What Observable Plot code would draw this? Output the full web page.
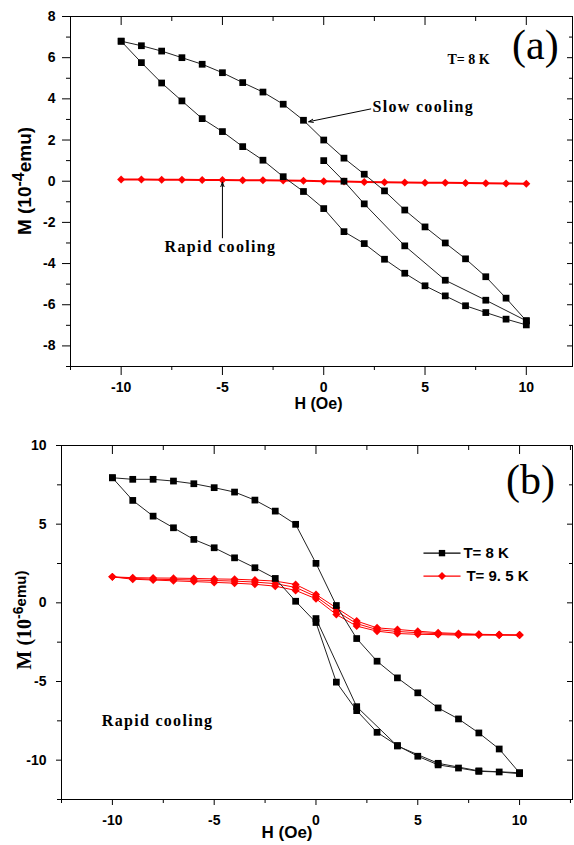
<!DOCTYPE html>
<html><head><meta charset="utf-8">
<script src="https://cdn.jsdelivr.net/npm/d3@7"></script>
<script src="https://cdn.jsdelivr.net/npm/@observablehq/plot@0.6"></script>
<style>body{margin:0;background:#fff;} #chart svg{display:block;}</style>
</head><body><div id="chart"></div>
<script>
// ---------- data ----------
const H = [-10,-9,-8,-7,-6,-5,-4,-3,-2,-1,0,1,2,3,4,5,6,7,8,9,10];

// panel (a) slow cooling, T = 8 K  (10^-4 emu)
const aUpper  = [6.8,6.58,6.32,6.0,5.68,5.27,4.79,4.33,3.74,2.96,2.0,1.12,0.34,-0.47,-1.4,-2.22,-3.0,-3.77,-4.64,-5.68,-6.78];
const aLower  = [6.8,5.76,4.77,3.9,3.04,2.41,1.68,1.02,0.22,-0.5,-1.33,-2.45,-3.03,-3.79,-4.47,-5.08,-5.57,-6.05,-6.38,-6.7,-6.98];
const aVirginH = [0,1,2,4,6,8,10];
const aVirgin  = [1.0,0.0,-1.1,-3.14,-4.81,-5.78,-6.78];
// panel (a) rapid cooling
const aRapid  = [0.08,0.08,0.07,0.07,0.06,0.06,0.05,0.05,0.04,0.02,0.0,-0.02,-0.04,-0.05,-0.06,-0.07,-0.08,-0.09,-0.10,-0.11,-0.12];

// panel (b) rapid cooling, T = 8 K (10^-6 emu)
const bUpper  = [7.95,7.85,7.85,7.74,7.57,7.32,7.04,6.53,5.83,4.99,2.51,-0.17,-2.27,-3.71,-4.77,-5.72,-6.68,-7.38,-8.27,-9.29,-10.81];
const bLower  = [7.95,6.51,5.51,4.77,4.03,3.5,2.86,2.23,1.55,0.1,-1.25,-5.04,-6.85,-8.23,-9.07,-9.75,-10.3,-10.5,-10.71,-10.75,-10.86];
const bVirginH = [0,2,4,6,8,10];
const bVirgin  = [-1.0,-6.6,-9.1,-10.2,-10.68,-10.8];
// panel (b) T = 9.5 K
const bRedA = [1.65,1.6,1.58,1.57,1.55,1.52,1.5,1.45,1.38,1.17,0.53,-0.32,-1.16,-1.59,-1.69,-1.8,-1.9,-1.95,-2.0,-2.02,-2.05];
const bRedB = [1.65,1.55,1.5,1.48,1.45,1.42,1.38,1.32,1.22,0.98,0.4,-0.53,-1.32,-1.7,-1.82,-1.9,-1.96,-2.0,-2.02,-2.04,-2.05];
const bRedC = [1.65,1.5,1.45,1.4,1.35,1.3,1.25,1.18,1.06,0.79,0.26,-0.74,-1.48,-1.8,-1.95,-2.0,-2.02,-2.05,-2.05,-2.05,-2.05];

// ticks
const aXMajor = [-10,-5,0,5,10];
const aXMinor = [-12.5,-7.5,-2.5,2.5,7.5,12.5];
const aYMajor = [-8,-6,-4,-2,0,2,4,6,8];
const aYMinor = [-9,-7,-5,-3,-1,1,3,5,7];
const bXMajor = [-10,-5,0,5,10];
const bXMinor = [-12.5,-7.5,-2.5,2.5,7.5,12.5];
const bYMajor = [-10,-5,0,5,10];
const bYMinor = [-12.5,-7.5,-2.5,2.5,7.5];

// annotations (data coordinates)
const aTemp   = [{x:6.11, y:5.67, text:"T= 8 K"}];
const aTag    = [{x:10.45, y:5.96, text:"(a)"}];
const aSlow   = [{x:2.41, y:3.63, text:"Slow cooling"}];
const aRapidT = [{x:-5.1, y:-3.17, text:"Rapid cooling"}];
const aArrows = [{x1:2.32, y1:3.51, x2:-0.74, y2:2.89}, {x1:-5, y1:-2.75, x2:-5, y2:-0.05}];
const bTag    = [{x:10.54, y:6.9, text:"(b)"}];
const bRapidT = [{x:-7.78, y:-7.53, text:"Rapid cooling"}];
const bLegend = [{x1:5.28, x2:7.1, y:3.16, mx:6.19, tx:7.24, text:"T= 8 K", color:"black", symbol:"square"},
                 {x1:5.28, x2:7.1, y:1.7,  mx:6.19, tx:7.39, text:"T= 9. 5 K", color:"#ff0000", symbol:"diamond2"}];

// ---------- build rows ----------
const rows = (xs, ys, s) => xs.map((x, i) => ({H: x, M: ys[i], s}));
const aBlack = [...rows(H, aUpper, "up"), ...rows(H, aLower, "low"), ...rows(aVirginH, aVirgin, "vir")];
const aRed = rows(H, aRapid, "r");
const bBlack = [...rows(H, bUpper, "up"), ...rows(H, bLower, "low"), ...rows(bVirginH, bVirgin, "vir")];
const bRed = [...rows(H, bRedA, "a"), ...rows(H, bRedB, "b"), ...rows(H, bRedC, "c")];

const sans = "'Liberation Sans', Arial, sans-serif";
const serif = "'Liberation Serif', 'Times New Roman', serif";
const fmt = d => String(d);
const blank = () => "";

function axes(xMaj, xMin, yMaj, yMin, big, small, pad) {
  return [
    Plot.axisX({ticks: xMaj, tickSize: big, tickPadding: pad, label: null, tickFormat: fmt, fontSize: 14, fontWeight: "bold"}),
    Plot.axisX({ticks: xMin, tickSize: small, label: null, tickFormat: blank}),
    Plot.axisX({anchor: "top", ticks: xMaj, tickSize: -8, label: null, tickFormat: blank}),
    Plot.axisX({anchor: "top", ticks: xMin, tickSize: -4, label: null, tickFormat: blank}),
    Plot.axisY({ticks: yMaj, tickSize: big - 1, tickPadding: pad, label: null, tickFormat: fmt, fontSize: 14, fontWeight: "bold"}),
    Plot.axisY({ticks: yMin, tickSize: small, label: null, tickFormat: blank}),
    Plot.axisY({anchor: "right", ticks: yMaj, tickSize: -6, label: null, tickFormat: blank}),
    Plot.axisY({anchor: "right", ticks: yMin, tickSize: -4, label: null, tickFormat: blank})
  ];
}

const plotA = Plot.plot({
  width: 574, height: 420,
  marginLeft: 70, marginRight: 2, marginTop: 16, marginBottom: 54,
  x: {domain: [-12.5, 12.28]},
  y: {domain: [-9, 8]},
  style: {fontFamily: sans, fontSize: "14px", fontWeight: "bold", background: "white", color: "black"},
  marks: [
    ...axes(aXMajor, aXMinor, aYMajor, aYMinor, 9, 4, 7),
    Plot.frame({stroke: "black", strokeWidth: 1}),
    Plot.line(aRed, {x: "H", y: "M", z: "s", stroke: "#ff0000", strokeWidth: 2}),
    Plot.dot(aRed, {x: "H", y: "M", symbol: "diamond2", r: 3.6, fill: "#ff0000"}),
    Plot.line(aBlack, {x: "H", y: "M", z: "s", stroke: "#222", strokeWidth: 1}),
    Plot.dot(aBlack, {x: "H", y: "M", symbol: "square", r: 3.8, fill: "black"}),
    Plot.arrow(aArrows, {x1: "x1", y1: "y1", x2: "x2", y2: "y2", stroke: "black", strokeWidth: 1, headLength: 7, headAngle: 40}),
    Plot.text(aTemp, {x: "x", y: "y", text: "text", textAnchor: "start", lineAnchor: "bottom", fontFamily: serif, fontWeight: "bold", fontSize: 14}),
    Plot.text(aTag, {x: "x", y: "y", text: "text", lineAnchor: "bottom", fontFamily: serif, fontWeight: "normal", fontSize: 42}),
    Plot.text(aSlow, {x: "x", y: "y", text: "text", textAnchor: "start", fontFamily: serif, fontWeight: "bold", fontSize: 16}),
    Plot.text(aRapidT, {x: "x", y: "y", text: "text", fontFamily: serif, fontWeight: "bold", fontSize: 16}),
    Plot.text(["H (Oe)"], {frameAnchor: "bottom", dx: -3, dy: 42, fontSize: 16, fontWeight: "bold", fontFamily: sans})
  ]
});

const plotB = Plot.plot({
  width: 574, height: 425,
  marginLeft: 61, marginRight: 2, marginTop: 25, marginBottom: 46,
  x: {domain: [-12.5, 12.6]},
  y: {domain: [-12.5, 10]},
  style: {fontFamily: sans, fontSize: "14px", fontWeight: "bold", background: "white", color: "black"},
  marks: [
    ...axes(bXMajor, bXMinor, bYMajor, bYMinor, 6, 4, 10),
    Plot.frame({stroke: "black", strokeWidth: 1}),
    Plot.line(bRed, {x: "H", y: "M", z: "s", stroke: "#ff0000", strokeWidth: 1}),
    Plot.dot(bRed, {x: "H", y: "M", symbol: "diamond2", r: 3.6, fill: "#ff0000"}),
    Plot.line(bBlack, {x: "H", y: "M", z: "s", stroke: "#222", strokeWidth: 1}),
    Plot.dot(bBlack, {x: "H", y: "M", symbol: "square", r: 3.8, fill: "black"}),
    Plot.link(bLegend, {x1: "x1", x2: "x2", y1: "y", y2: "y", stroke: "color", strokeWidth: 1.3}),
    Plot.dot(bLegend, {x: "mx", y: "y", symbol: "symbol", r: 3.6, fill: "color"}),
    Plot.text(bLegend, {x: "tx", y: "y", text: "text", textAnchor: "start", fontSize: 15, fontWeight: "bold", fontFamily: sans}),
    Plot.text(bTag, {x: "x", y: "y", text: "text", lineAnchor: "bottom", fontFamily: serif, fontWeight: "normal", fontSize: 42}),
    Plot.text(bRapidT, {x: "x", y: "y", text: "text", fontFamily: serif, fontWeight: "bold", fontSize: 16}),
    Plot.text(["H (Oe)"], {frameAnchor: "bottom", dx: -30, dy: 38, fontSize: 17, fontWeight: "bold", fontFamily: sans})
  ]
});

const chart = document.getElementById("chart");
chart.appendChild(plotA);
chart.appendChild(plotB);

// widen letter spacing of the serif annotations, as in the original
d3.selectAll("#chart text").each(function() {
  const t = this.textContent;
  if (t === "Slow cooling" || t === "Rapid cooling") d3.select(this).attr("letter-spacing", "1.3px");
});

// rotated y labels with superscripts
function ylabel(svg, cx, cy, parts) {
  const t = d3.select(svg).append("text")
    .attr("transform", `translate(${cx},${cy}) rotate(-90)`)
    .attr("text-anchor", "middle")
    .attr("fill", "black");
  parts.forEach(p => {
    const s = t.append("tspan").text(p.text)
      .attr("font-family", p.family).attr("font-size", p.size).attr("font-weight", "bold");
    if (p.dy) s.attr("dy", p.dy);
  });
}
ylabel(plotA, 31, 181, [
  {text: "M (10", family: sans, size: 19},
  {text: "-4", family: sans, size: 16, dy: -7},
  {text: "emu)", family: sans, size: 19, dy: 7}
]);
ylabel(plotB, 31, 200, [
  {text: "M (10", family: serif, size: 20},
  {text: "-6", family: sans, size: 14, dy: -8},
  {text: "emu)", family: sans, size: 15, dy: 3}
]);
</script>
</body></html>
